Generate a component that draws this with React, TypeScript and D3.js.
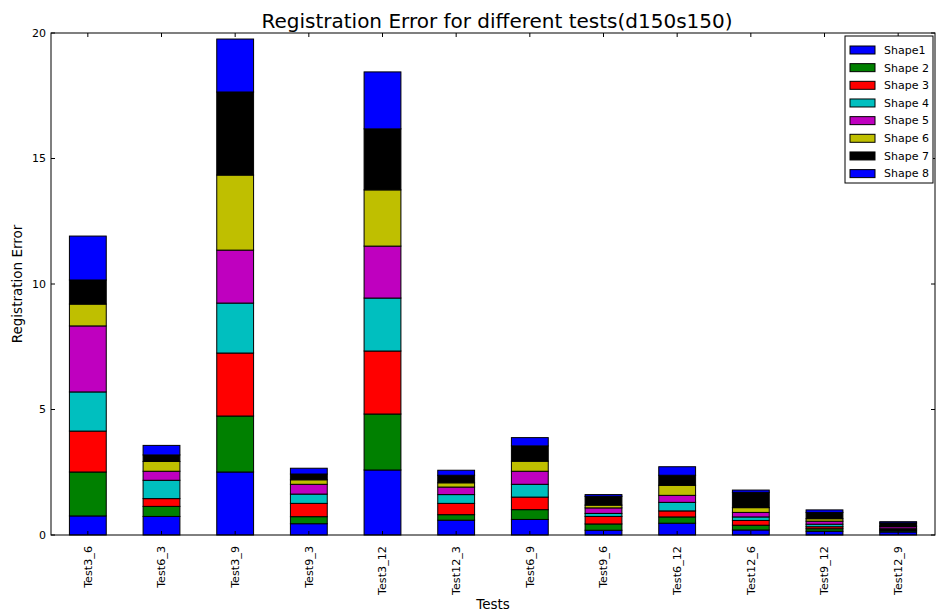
import React, { useMemo } from 'react';
import * as d3 from 'd3';

const W = 936;
const H = 613;
const MARGIN = { top: 33, right: 1, bottom: 78, left: 51 };

const categories = ['Test3_6', 'Test6_3', 'Test3_9', 'Test9_3', 'Test3_12', 'Test12_3', 'Test6_9', 'Test9_6', 'Test6_12', 'Test12_6', 'Test9_12', 'Test12_9'];
const seriesNames = ['Shape1', 'Shape 2', 'Shape 3', 'Shape 4', 'Shape 5', 'Shape 6', 'Shape 7', 'Shape 8'];
const seriesColors = ['#0000ff', '#008000', '#ff0000', '#00bfbf', '#bf00bf', '#bfbf00', '#000000', '#0000ff'];

const shape1 = [0.76, 0.74, 2.51, 0.45, 2.59, 0.59, 0.62, 0.19, 0.47, 0.20, 0.15, 0.12];
const shape2 = [1.75, 0.40, 2.23, 0.28, 2.23, 0.22, 0.39, 0.25, 0.25, 0.19, 0.10, 0.05];
const shape3 = [1.63, 0.31, 2.51, 0.53, 2.51, 0.45, 0.50, 0.30, 0.24, 0.19, 0.08, 0.04];
const shape4 = [1.56, 0.73, 1.99, 0.37, 2.11, 0.35, 0.51, 0.12, 0.34, 0.14, 0.10, 0.04];
const shape5 = [2.63, 0.36, 2.11, 0.39, 2.07, 0.30, 0.52, 0.22, 0.28, 0.18, 0.12, 0.08];
const shape6 = [0.87, 0.39, 2.99, 0.18, 2.24, 0.17, 0.40, 0.11, 0.40, 0.19, 0.10, 0.03];
const shape7 = [0.96, 0.26, 3.31, 0.23, 2.43, 0.30, 0.61, 0.35, 0.40, 0.61, 0.25, 0.12];
const shape8 = [1.75, 0.38, 2.11, 0.23, 2.27, 0.20, 0.33, 0.07, 0.34, 0.09, 0.10, 0.05];

const yTicks = [0, 5, 10, 15, 20];

const FONT = 'DejaVu Sans, sans-serif';

const App: React.FC = () => {
  const innerW = W - MARGIN.left - MARGIN.right;
  const innerH = H - MARGIN.top - MARGIN.bottom;

  const allSeries = [shape1, shape2, shape3, shape4, shape5, shape6, shape7, shape8];

  // rows for d3.stack
  const rows = useMemo(() => categories.map((c, i) => {
    const r: Record<string, number | string> = { cat: c };
    seriesNames.forEach((s, k) => { r[s] = allSeries[k][i]; });
    return r;
  }), []);

  const stacked = d3.stack<any>().keys(seriesNames)(rows);

  const x = d3.scaleBand()
    .domain(categories)
    .range([0, innerW])
    .paddingInner(0.5)
    .paddingOuter(0.25);

  const y = d3.scaleLinear().domain([0, 20]).range([innerH, 0]);

  const tickLen = 4;

  return (
    <svg width={W} height={H} style={{ position: 'absolute', left: 0, top: 0, background: '#fff' }} fontFamily={FONT}>
      <text x={MARGIN.left + innerW / 2 + 4} y={28} textAnchor="middle" fontSize={20}>
        Registration Error for different tests(d150s150)
      </text>
      <g transform={`translate(${MARGIN.left},${MARGIN.top})`}>
        {stacked.map((layer, k) => (
          <g key={layer.key} fill={seriesColors[k]}>
            {layer.map((d, i) => (
              <rect
                key={i}
                x={x(categories[i])!}
                y={y(d[1])}
                width={x.bandwidth()}
                height={y(d[0]) - y(d[1])}
                stroke="#000"
                strokeWidth={1}
              />
            ))}
          </g>
        ))}

        {/* frame */}
        <rect x={0} y={0} width={innerW} height={innerH} fill="none" stroke="#000" strokeWidth={1} />

        {/* y ticks */}
        {yTicks.map(t => (
          <g key={t}>
            <line x1={0} x2={tickLen} y1={y(t)} y2={y(t)} stroke="#000" />
            <line x1={innerW} x2={innerW - tickLen} y1={y(t)} y2={y(t)} stroke="#000" />
            <text x={-5} y={y(t)} dy="0.35em" textAnchor="end" fontSize={11}>{t}</text>
          </g>
        ))}

        {/* x ticks */}
        {categories.map(c => {
          const cx = x(c)! + x.bandwidth() / 2;
          return (
            <g key={c}>
              <line x1={cx} x2={cx} y1={innerH} y2={innerH - tickLen} stroke="#000" />
              <line x1={cx} x2={cx} y1={0} y2={tickLen} stroke="#000" />
              <text
                transform={`translate(${cx},${innerH + 11}) rotate(-90)`}
                dy="0.35em"
                textAnchor="end"
                fontSize={11.2}
              >{c}</text>
            </g>
          );
        })}

        <text x={innerW / 2} y={H - MARGIN.top - 4} textAnchor="middle" fontSize={13.5}>Tests</text>
        <text transform={`translate(${-29},${innerH / 2}) rotate(-90)`} textAnchor="middle" fontSize={13.5}>Registration Error</text>

        {/* legend */}
        <g transform={`translate(${845 - MARGIN.left},${36 - MARGIN.top})`}>
          <rect x={0} y={0} width={88} height={147} fill="#fff" stroke="#000" strokeWidth={1} />
          {seriesNames.map((s, k) => (
            <g key={s} transform={`translate(0,${10 + k * 17.66})`}>
              <rect x={5} y={0} width={25} height={8} fill={seriesColors[k]} stroke="#000" strokeWidth={1} />
              <text x={39} y={4} dy="0.35em" fontSize={11}>{s}</text>
            </g>
          ))}
        </g>
      </g>
    </svg>
  );
};

export default App;
